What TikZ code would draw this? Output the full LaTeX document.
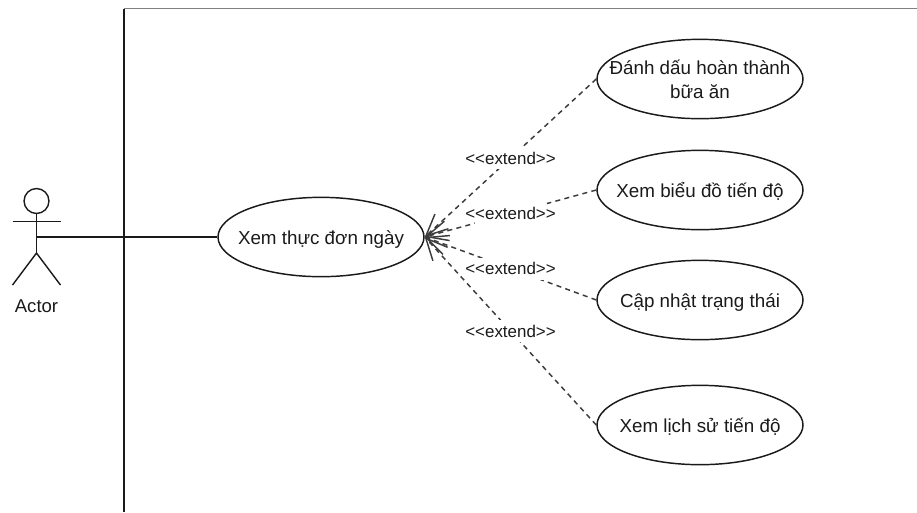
\documentclass[tikz,border=0pt]{standalone}
\usepackage{fontspec}
\setmainfont{Liberation Sans}
\usetikzlibrary{shapes.geometric,arrows.meta}
\definecolor{ink}{HTML}{1A1A1A}
\tikzset{
  x=0.75pt,y=-0.75pt,
  every node/.style={text=ink},
  usecase/.style={draw=ink,line width=1.1pt,ellipse,inner sep=0pt,minimum width=154.5pt,minimum height=59.5pt,font=\fontsize{14.1pt}{18pt}\selectfont},
  lbl/.style={fill=white,inner sep=0pt,minimum width=54pt,minimum height=16.5pt,font=\fontsize{12.7pt}{14pt}\selectfont},
  ext/.style={draw=ink!85,line width=1.1pt,dash pattern=on 3.8pt off 3.2pt,-{Straight Barb[length=16pt,width=15pt,line width=1.1pt]}},
  solidline/.style={draw=ink,line width=1.05pt},
  frameline/.style={draw=ink,line width=0.9pt},
}
\newcommand{\overflowtext}[1]{\makebox[0pt][c]{#1}}
\newcommand{\uctext}[1]{\makebox[0pt][c]{\raisebox{-.38em}[0pt][0pt]{\begin{tabular}{@{}c@{}}#1\end{tabular}}}}
\begin{document}
\begin{tikzpicture}
\useasboundingbox (0,0) rectangle (917,512);
\coordinate (frameTR) at (917,8.5);
\coordinate (frameTL) at (124,8.5);
\coordinate (frameBL) at (124,512);
\draw[frameline,draw=gray] (frameTL) -- (frameTR);
\draw[frameline,line width=1.2pt] (frameTL) -- (frameBL);

\node[draw=ink,line width=1.05pt,circle,inner sep=0pt,minimum size=18.7pt] (head) at (36.5,201) {};
\coordinate (armL) at (12.5,221.5);
\coordinate (armR) at (60.5,221.5);
\coordinate (hip) at (36.5,253);
\coordinate (legL) at (12.5,285);
\coordinate (legR) at (60.5,285);
\coordinate (chest) at (36.5,237);
\draw[solidline] (head.south) -- (hip);
\draw[solidline] (armL) -- (armR);
\draw[solidline] (legL) -- (hip) -- (legR);
\node[font=\fontsize{13.9pt}{15pt}\selectfont] (actor) at (36.5,306) {Actor};

\node[usecase] (main) at (321,237) {\uctext{Xem thực đơn ngày}};
\node[usecase] (e1) at (700,79) {\uctext{Đánh dấu hoàn thành\\bữa ăn}};
\node[usecase] (e2) at (700,190) {\uctext{Xem biểu đồ tiến độ}};
\node[usecase] (e3) at (700,300) {\uctext{Cập nhật trạng thái}};
\node[usecase] (e4) at (700,425) {\uctext{Xem lịch sử tiến độ}};

\draw[solidline] (chest) -- (main.west);
\foreach \n in {e1,e2,e3,e4}{
  \draw[ext] (\n.west) -- (main.east) node[lbl,pos=0.5] {\overflowtext{<{}<extend>{}>}};
}
\end{tikzpicture}
\end{document}
